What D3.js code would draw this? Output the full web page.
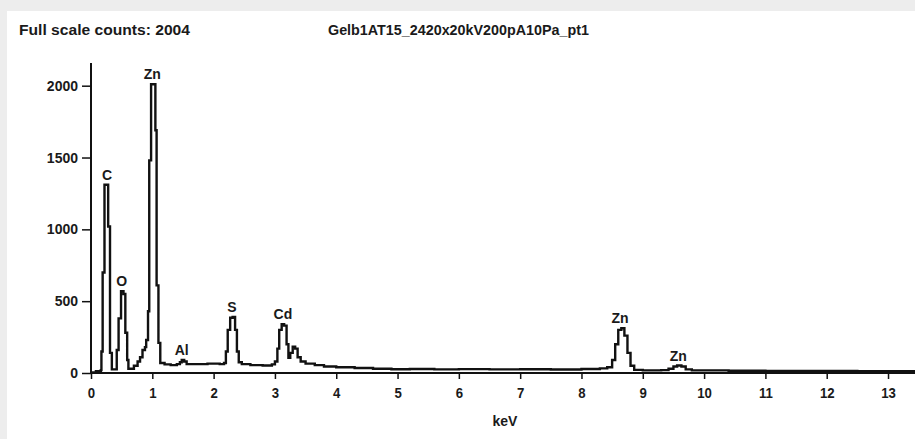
<!DOCTYPE html>
<html>
<head>
<meta charset="utf-8">
<script src="https://cdn.jsdelivr.net/npm/d3@7"></script>
<style>
  html, body { margin: 0; padding: 0; background: #ededed; }
  svg { display: block; }
  text { font-family: "Liberation Sans", Arial, sans-serif; font-weight: bold; fill: #1a1a1a; }
</style>
</head>
<body>
<div id="chart"></div>
<script>
// spectrum (keV, counts)
const energyKeV = [0.00, 0.08, 0.16, 0.17, 0.19, 0.22, 0.27, 0.28, 0.31, 0.34, 0.41, 0.42, 0.45, 0.49, 0.53, 0.56, 0.59, 0.61,
  0.66, 0.70, 0.76, 0.80, 0.84, 0.88, 0.90, 0.93, 0.95, 0.98, 1.04, 1.05, 1.07, 1.10, 1.13, 1.20, 1.30, 1.40, 1.45,
  1.48, 1.52, 1.56, 1.70, 1.90, 2.10, 2.17, 2.20, 2.23, 2.27, 2.31, 2.35, 2.38, 2.41, 2.46, 2.60, 2.80, 2.95, 3.00,
  3.04, 3.07, 3.11, 3.15, 3.19, 3.22, 3.25, 3.29, 3.33, 3.37, 3.42, 3.50, 3.65, 3.80, 4.00, 4.30, 4.60, 4.90, 5.20,
  5.60, 6.00, 6.50, 7.00, 7.50, 8.00, 8.30, 8.42, 8.50, 8.55, 8.60, 8.65, 8.70, 8.75, 8.80, 8.86, 9.00, 9.30, 9.42,
  9.50, 9.56, 9.63, 9.70, 9.80, 10.40, 11.00, 11.50, 12.00, 12.50, 13.00, 13.44];
const counts = [4, 12, 20, 150, 700, 1310, 1310, 1020, 140, 25, 25, 160, 380, 570, 550, 280, 90, 30,
  30, 50, 80, 110, 160, 180, 230, 430, 1480, 2010, 2010, 1690, 610, 210, 70, 60, 55, 62, 75,
  90, 80, 62, 62, 65, 62, 70, 150, 300, 385, 390, 300, 150, 75, 62, 55, 52, 60, 80,
  170, 300, 340, 330, 200, 105, 140, 183, 170, 110, 80, 65, 55, 45, 40, 35, 30, 26, 28,
  25, 27, 25, 26, 24, 28, 32, 40, 90, 200, 300, 312, 260, 140, 50, 22, 18, 20, 30,
  45, 52, 45, 25, 18, 16, 15, 14, 14, 13, 12, 12];

const peakNames = ["C", "O", "Zn", "Al", "S", "Cd", "Zn", "Zn"];
const peakKeV = [0.26, 0.50, 1.00, 1.48, 2.30, 3.13, 8.63, 9.58];
const peakCounts = [1310, 570, 2010, 90, 390, 340, 312, 52];

const xTicks = [0, 1, 2, 3, 4, 5, 6, 7, 8, 9, 10, 11, 12, 13];
const yTicks = [0, 500, 1000, 1500, 2000];

const titleLeft = "Full scale counts: 2004";
const titleMid = "Gelb1AT15_2420x20kV200pA10Pa_pt1";
const xTitle = "keV";

const width = 915, height = 439;

const svg = d3.select('#chart').append('svg')
  .attr('width', width)
  .attr('height', height);

// light grey frame, white plot panel
svg.append('rect').attr('width', width).attr('height', height).attr('fill', '#ededed');
svg.append('rect').attr('x', 7).attr('y', 11).attr('width', width - 7).attr('height', height - 11).attr('fill', '#ffffff');

const x = d3.scaleLinear().domain([0, 13.44]).range([91, 915]);
const y = d3.scaleLinear().domain([0, 2158]).range([373, 63]);

svg.append('text').attr('x', 19).attr('y', 35)
  .attr('font-size', 14).attr('textLength', 171).attr('lengthAdjust', 'spacingAndGlyphs')
  .text(titleLeft);
svg.append('text').attr('x', 328).attr('y', 35)
  .attr('font-size', 14).attr('textLength', 261).attr('lengthAdjust', 'spacingAndGlyphs')
  .text(titleMid);

// spectrum
let line = d3.line()
  .x(function(d, i) { return x(energyKeV[i]); })
  .y(function(d) { return y(d); })
  .curve(d3.curveStepAfter);

svg.append('path')
  .datum(counts)
  .attr('d', line)
  .attr('fill', 'none')
  .attr('stroke', '#111')
  .attr('stroke-width', 2.4)
  .attr('stroke-linejoin', 'miter');

// axes
let xAxis = svg.append('g')
  .attr('transform', 'translate(0,373)')
  .call(d3.axisBottom(x).tickValues(xTicks).tickSize(6).tickPadding(8).tickFormat(d3.format('d')));
xAxis.select('.domain').attr('stroke', '#111').attr('stroke-width', 2).attr('d', 'M91,0H915');
xAxis.selectAll('.tick line').attr('stroke', '#111').attr('stroke-width', 1.5);
xAxis.selectAll('.tick text')
  .attr('font-size', 15).attr('font-family', '"Liberation Sans", Arial, sans-serif')
  .attr('font-weight', 'bold').attr('fill', '#1a1a1a')
  .attr('transform', 'scale(0.88,1)')
  .attr('x', 0);

let yAxis = svg.append('g')
  .attr('transform', 'translate(91,0)')
  .call(d3.axisLeft(y).tickValues(yTicks).tickSize(9).tickPadding(4).tickFormat(d3.format('d')));
yAxis.select('.domain').attr('stroke', '#111').attr('stroke-width', 2).attr('d', 'M0,63V373');
yAxis.selectAll('.tick line').attr('stroke', '#111').attr('stroke-width', 1.5);
yAxis.selectAll('.tick text')
  .attr('font-size', 14).attr('font-family', '"Liberation Sans", Arial, sans-serif')
  .attr('font-weight', 'bold').attr('fill', '#1a1a1a');

svg.append('text')
  .attr('x', 505).attr('y', 426)
  .attr('text-anchor', 'middle')
  .attr('font-size', 14)
  .text(xTitle);

// peak labels
svg.append('g').selectAll('text')
  .data(peakNames)
  .enter().append('text')
  .attr('x', function(d, i) { return x(peakKeV[i]); })
  .attr('y', function(d, i) { return y(peakCounts[i]) - 5; })
  .attr('text-anchor', 'middle')
  .attr('font-size', 14)
  .text(function(d) { return d; });
</script>
</body>
</html>
